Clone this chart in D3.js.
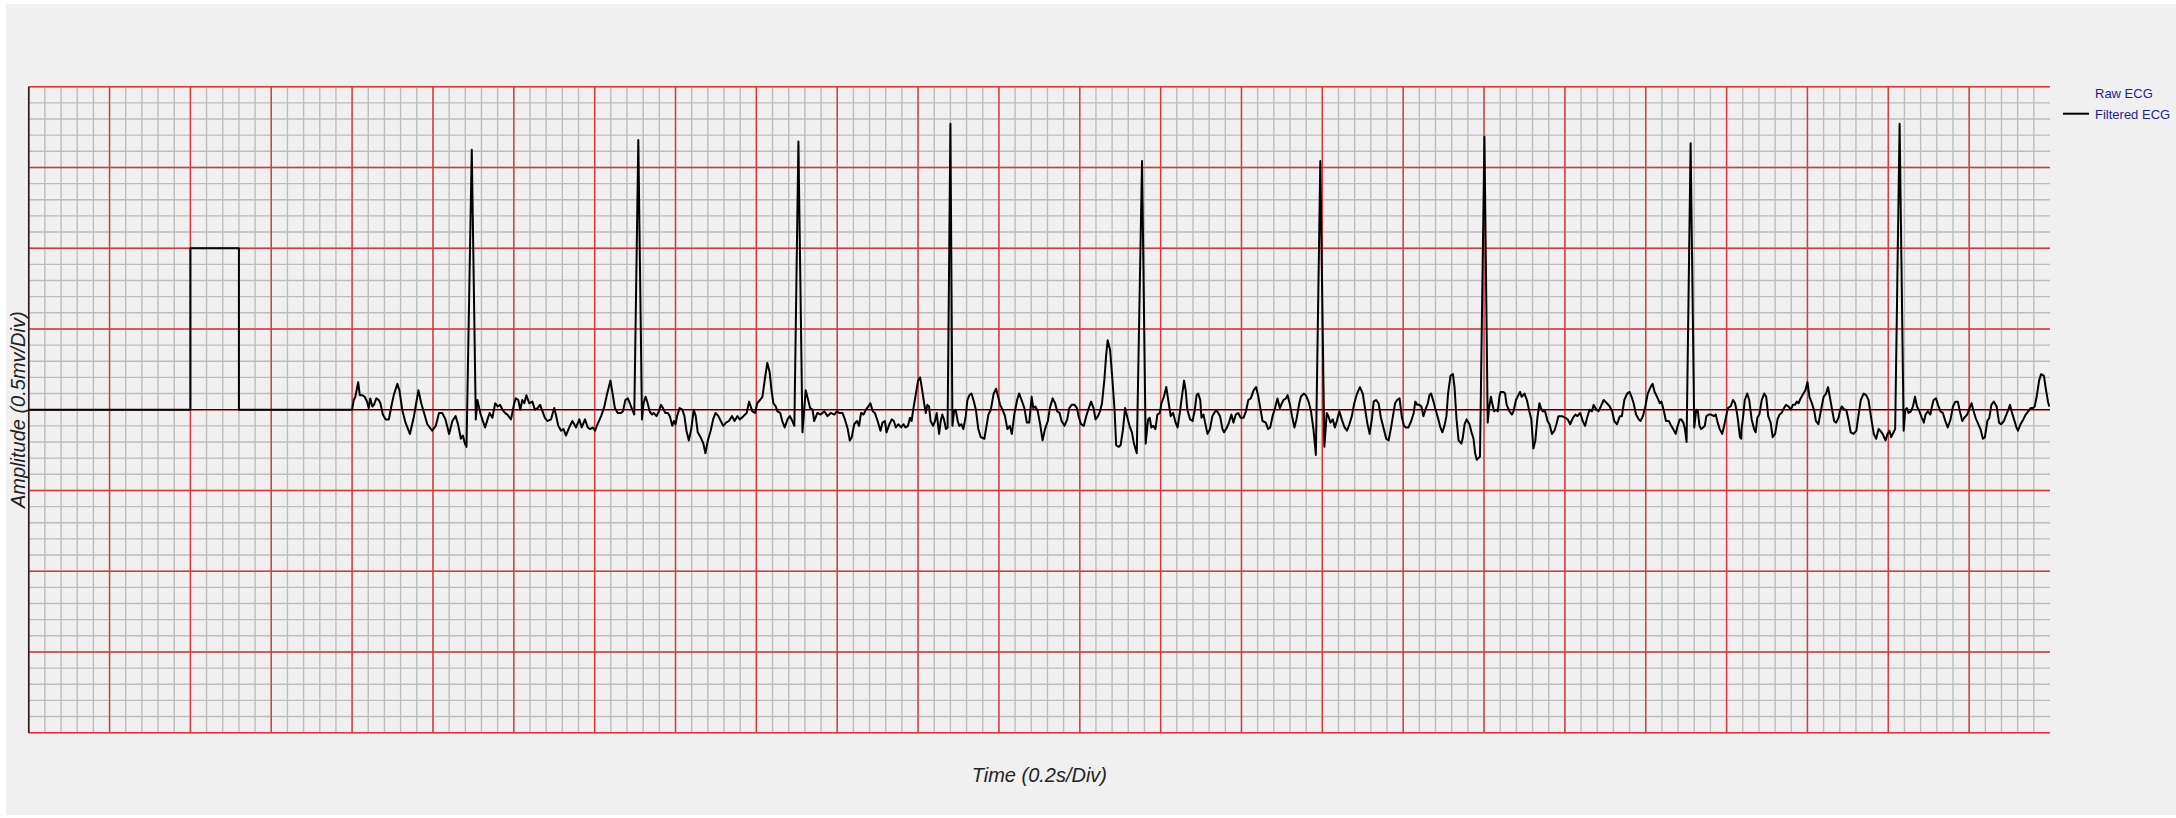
<!DOCTYPE html>
<html><head><meta charset="utf-8">
<script src="https://cdn.jsdelivr.net/npm/d3@7"></script>
<style>html,body{margin:0;padding:0;background:#fff;} svg{display:block}</style>
</head><body><svg id="c" width="2176" height="818"></svg>
<script>
// ---------- data ----------
const seriesNames = ["Raw ECG", "Filtered ECG"];
const xLabel = "Time (0.2s/Div)";
const yLabel = "Amplitude (0.5mv/Div)";
const timeDomainMs = [0, 5000];        // 25 divisions x 0.2 s
const ampDomainMv = [-2, 2];           // 8 divisions x 0.5 mV
const minorStepMs = 40, majorStepMs = 200;
const minorStepMv = 0.1, majorStepMv = 0.5;
const rawEcg = [];                     // listed in legend, not drawn
// calibration pulse [ms, mV]
const calibration = [[0,0],[400,0],[400,1],[520,1],[520,0],[800,0]];
// filtered ECG [ms, mV]
const ecg = [
[800,0],[804,0.06],[808,0.08],[815,0.17],[819,0.09],[825,0.09],[831,0.08],[837,0.05],[841,0.01],[845,0.07],[850,0.02],[854,0.03],[860,0.07],[866,0.06],[870,0.04],[876,-0.03],[883,-0.06],[891,-0.06],[897,0.02],[903,0.09],[912,0.16],[917,0.12],[924,0],[932,-0.08],[943,-0.15],[953,-0.04],[964,0.12],[971,0.04],[978,-0.02],[986,-0.09],[998,-0.13],[1007,-0.10],[1015,-0.02],[1023,-0.02],[1031,-0.06],[1040,-0.15],[1048,-0.07],[1056,-0.04],[1062,-0.09],[1069,-0.18],[1074,-0.16],[1079,-0.21],[1083,-0.23],[1096,1.61],[1106,-0.06],[1110,0.06],[1117,-0.02],[1122,-0.06],[1129,-0.11],[1135,-0.06],[1140,-0.02],[1147,-0.05],[1154,0.04],[1160,0.02],[1166,0.03],[1172,0],[1178,-0.02],[1184,-0.03],[1193,-0.06],[1201,0.04],[1205,0.07],[1211,0.06],[1216,0],[1221,0.06],[1226,0.04],[1231,0.09],[1238,0.04],[1246,0.05],[1252,0],[1259,0.01],[1265,0.03],[1271,-0.01],[1277,-0.05],[1283,-0.07],[1292,-0.06],[1300,0.01],[1304,-0.03],[1310,-0.10],[1317,-0.13],[1323,-0.12],[1329,-0.16],[1337,-0.11],[1345,-0.07],[1354,-0.11],[1362,-0.06],[1368,-0.11],[1376,-0.06],[1383,-0.11],[1389,-0.12],[1395,-0.11],[1401,-0.13],[1407,-0.09],[1416,-0.04],[1424,0.02],[1431,0.10],[1439,0.18],[1445,0.09],[1450,0.01],[1457,-0.02],[1465,-0.02],
[1470,-0.01],[1476,0.06],[1482,0.07],[1487,0.04],[1493,0],[1498,-0.03],[1508,1.67],[1517,-0.06],[1521,0.04],[1526,0.08],[1530,0.05],[1536,-0.01],[1542,-0.03],[1546,-0.02],[1553,-0.04],[1559,-0.01],[1564,0.03],[1569,0.01],[1575,-0.02],[1581,-0.02],[1586,-0.04],[1592,-0.10],[1596,-0.07],[1600,-0.09],[1604,-0.04],[1610,0.01],[1617,0],[1622,-0.04],[1627,-0.13],[1633,-0.19],[1639,-0.12],[1645,0],[1650,-0.04],[1655,-0.14],[1662,-0.17],[1669,-0.21],[1674,-0.27],[1680,-0.19],[1687,-0.13],[1693,-0.06],[1699,-0.02],[1706,-0.04],[1712,-0.07],[1718,-0.10],[1725,-0.08],[1732,-0.07],[1740,-0.04],[1746,-0.07],[1753,-0.04],[1759,-0.06],[1768,-0.04],[1776,-0.02],[1782,0.05],[1786,0.02],[1790,-0.01],[1797,-0.02],[1802,0.04],[1809,0.06],[1815,0.08],[1821,0.19],[1827,0.29],[1833,0.23],[1837,0.13],[1842,0.04],[1848,0.02],[1852,-0.01],[1859,-0.02],[1864,-0.07],[1870,-0.11],[1877,-0.06],[1883,-0.04],[1889,-0.07],[1894,-0.10],[1904,1.66],[1914,-0.14],[1922,0.12],[1928,0.06],[1933,0.01],[1939,0],[1943,-0.07],[1951,-0.02],[1959,-0.03],[1968,-0.01],[1976,-0.04],[1984,-0.02],[1993,-0.03],[1999,-0.01],[2005,-0.02],[2013,-0.02],[2019,-0.06],[2026,-0.12],[2031,-0.19],[2036,-0.17],[2042,-0.09],[2049,-0.07],[2054,-0.10],[2059,-0.02],[2065,-0.03],[2071,0],[2077,0.02],[2082,0.04],[2088,-0.01],[2093,-0.02],[2100,-0.07],[2107,-0.13],[2112,-0.08],[2118,-0.07],[2122,-0.14],[2129,-0.09],[2135,-0.06],[2140,-0.07],[2145,-0.11],[2151,-0.09],[2158,-0.11],
[2164,-0.09],[2169,-0.11],[2175,-0.10],[2180,-0.05],[2184,-0.07],[2188,0],[2194,0.09],[2200,0.18],[2205,0.20],[2209,0.14],[2215,0.04],[2219,-0.02],[2223,0.03],[2227,0.02],[2231,-0.07],[2237,-0.10],[2242,-0.07],[2246,-0.02],[2252,-0.15],[2256,-0.07],[2260,-0.03],[2264,-0.06],[2269,-0.12],[2273,-0.11],[2280,1.77],[2285,-0.10],[2289,-0.01],[2293,0],[2298,-0.07],[2302,-0.10],[2307,-0.09],[2312,-0.12],[2318,-0.04],[2322,0.06],[2327,0.09],[2332,0.10],[2337,0.06],[2343,0],[2349,-0.12],[2355,-0.17],[2364,-0.18],[2370,-0.09],[2374,-0.03],[2380,0],[2387,0.10],[2393,0.13],[2398,0.08],[2403,0.03],[2409,0],[2415,-0.04],[2421,-0.12],[2427,-0.10],[2432,-0.15],[2438,-0.03],[2445,0.06],[2450,0.10],[2456,0.06],[2463,0.01],[2469,-0.08],[2475,-0.08],[2481,0.08],[2485,0.01],[2490,0.02],[2496,-0.01],[2502,-0.09],[2508,-0.19],[2514,-0.12],[2521,-0.07],[2526,0.01],[2533,0.07],[2539,0.04],[2544,-0.01],[2550,-0.02],[2555,-0.07],[2562,-0.10],[2569,-0.06],[2574,0.01],[2580,0.03],[2587,0.03],[2593,0.01],[2597,-0.04],[2603,-0.09],[2610,-0.10],[2616,-0.04],[2621,0],[2628,0.05],[2634,0.01],[2639,-0.06],[2645,-0.04],[2650,-0.01],[2655,0.04],[2661,0.19],[2665,0.33],[2669,0.43],[2675,0.37],[2680,0.21],[2686,0],[2690,-0.22],[2696,-0.23],[2701,-0.22],[2707,-0.12],[2712,0.01],[2717,-0.04],[2723,-0.10],[2729,-0.14],[2734,-0.21],[2741,-0.27],[2754,1.54],[2763,-0.21],[2769,-0.06],[2773,-0.05],[2777,-0.11],[2782,-0.10],[2787,-0.12],[2792,-0.03],[2798,-0.02],[2802,0.04],[2808,0.08],[2814,0.14],[2820,0.04],[2825,-0.04],[2831,-0.02],[2837,-0.08],[2842,-0.11],[2848,-0.01],[2851,0.05],
[2858,0.18],[2862,0.12],[2866,0],[2873,-0.06],[2879,-0.07],[2884,-0.01],[2889,0.09],[2893,0.10],[2898,0.06],[2901,-0.05],[2906,-0.03],[2910,-0.08],[2916,-0.15],[2922,-0.12],[2928,-0.04],[2935,-0.01],[2940,-0.01],[2947,-0.04],[2953,-0.12],[2957,-0.14],[2964,-0.11],[2969,-0.08],[2975,-0.03],[2980,-0.08],[2986,-0.03],[2992,-0.02],[2998,-0.05],[3005,-0.05],[3011,-0.01],[3017,0.06],[3023,0.07],[3030,0.12],[3036,0.14],[3041,0.09],[3048,-0.01],[3052,-0.07],[3060,-0.08],[3066,-0.12],[3071,-0.11],[3077,-0.04],[3083,0.01],[3089,0.07],[3095,0.01],[3100,0.04],[3104,0.06],[3110,0.07],[3114,0.09],[3120,0.03],[3125,-0.04],[3131,-0.11],[3136,-0.06],[3143,0.04],[3147,0.08],[3154,0.10],[3159,0.09],[3166,0.05],[3172,-0.01],[3178,-0.12],[3184,-0.28],[3195,1.54],[3205,-0.23],[3211,-0.02],[3215,-0.04],[3220,-0.08],[3226,-0.06],[3231,-0.11],[3236,-0.07],[3242,-0.01],[3248,-0.06],[3255,-0.11],[3261,-0.13],[3267,-0.09],[3273,-0.04],[3279,0.04],[3286,0.10],[3293,0.14],[3300,0.10],[3306,0],[3311,-0.08],[3317,-0.15],[3323,-0.05],[3327,0.05],[3333,0.06],[3339,0.04],[3345,-0.05],[3352,-0.12],[3358,-0.18],[3364,-0.19],[3370,-0.11],[3376,-0.02],[3380,0.04],[3385,0.06],[3391,0.07],[3397,-0.05],[3402,-0.10],[3407,-0.11],[3413,-0.11],[3420,-0.07],[3426,-0.02],[3430,0.05],[3435,0.03],[3440,0.03],[3445,0.02],[3450,-0.04],[3455,0],[3461,0.04],[3465,0.09],[3469,0.10],[3475,0.05],[3479,0.01],[3486,-0.05],[3492,-0.11],[3497,-0.14],[3502,-0.10],[3507,-0.04],[3511,0.10],[3517,0.21],[3523,0.22],[3527,0.14],[3532,-0.06],[3537,-0.19],[3544,-0.21],
[3547,-0.18],[3552,-0.09],[3557,-0.06],[3564,-0.09],[3569,-0.14],[3574,-0.18],[3578,-0.27],[3582,-0.31],[3586,-0.30],[3590,-0.29],[3601,1.69],[3609,-0.08],[3613,0.02],[3617,0.08],[3621,0.03],[3625,-0.01],[3630,0],[3634,-0.01],[3638,0.08],[3641,0.11],[3648,0.11],[3652,0.10],[3656,0.03],[3663,-0.01],[3669,-0.03],[3673,-0.01],[3679,0.06],[3685,0.09],[3689,0.11],[3693,0.08],[3700,0.10],[3706,0.06],[3712,-0.01],[3717,-0.06],[3722,-0.24],[3727,-0.19],[3732,-0.05],[3737,0.04],[3741,0.01],[3745,-0.01],[3751,-0.01],[3757,-0.07],[3762,-0.09],[3768,-0.15],[3774,-0.13],[3779,-0.09],[3784,-0.04],[3793,-0.04],[3801,-0.05],[3807,-0.06],[3813,-0.09],[3820,-0.05],[3826,-0.03],[3831,-0.04],[3838,-0.02],[3844,-0.07],[3850,-0.10],[3855,-0.05],[3861,0],[3867,-0.01],[3871,0.03],[3878,0],[3883,-0.01],[3889,0.02],[3896,0.06],[3904,0.04],[3911,0.02],[3917,-0.01],[3922,-0.07],[3929,-0.09],[3936,-0.04],[3941,-0.04],[3947,0.06],[3954,0.10],[3960,0.11],[3965,0.08],[3970,0.04],[3976,-0.03],[3983,-0.06],[3987,-0.07],[3993,-0.04],[3999,0.02],[4005,0.10],[4012,0.14],[4017,0.16],[4022,0.11],[4028,0.08],[4035,0.04],[4039,0.05],[4045,-0.01],[4050,-0.07],[4057,-0.07],[4063,-0.10],[4068,-0.12],[4074,-0.15],[4078,-0.11],[4084,-0.06],[4088,-0.06],[4093,-0.08],[4097,-0.12],[4101,-0.20],[4111,1.65],[4120,-0.11],[4125,0],[4129,-0.01],[4133,-0.10],[4137,-0.12],[4142,-0.11],[4146,-0.10],[4150,-0.04],[4156,-0.03],[4162,-0.03],[4169,-0.04],[4173,-0.03],[4178,-0.08],[4183,-0.12],[4189,-0.15],[4193,-0.11],[4199,-0.04],[4203,0.01],[4210,0.02],[4216,0.06],[4221,0.04],[4225,-0.01],[4228,-0.06],[4233,-0.17],[4236,-0.18],
[4237,-0.12],[4241,-0.04],[4245,0.06],[4251,0.10],[4256,0.06],[4262,-0.06],[4268,-0.12],[4272,-0.14],[4276,-0.05],[4281,-0.03],[4287,0.06],[4293,0.10],[4298,0.08],[4303,-0.04],[4309,-0.08],[4314,-0.17],[4320,-0.15],[4326,-0.06],[4331,-0.03],[4336,-0.02],[4342,0.01],[4347,0.03],[4353,0.02],[4359,0],[4364,0.03],[4369,0.03],[4374,0.05],[4378,0.04],[4383,0.07],[4390,0.10],[4395,0.12],[4400,0.17],[4405,0.08],[4411,0.04],[4417,-0.01],[4421,-0.07],[4427,-0.09],[4433,-0.01],[4440,0.08],[4446,0.10],[4451,0.14],[4456,0.07],[4461,0],[4466,-0.07],[4471,-0.08],[4477,-0.05],[4481,0],[4485,0.02],[4491,0],[4496,0],[4502,-0.07],[4507,-0.14],[4514,-0.15],[4521,-0.13],[4526,-0.04],[4532,0.06],[4539,0.10],[4545,0.09],[4551,0.06],[4557,-0.04],[4564,-0.15],[4570,-0.18],[4576,-0.12],[4580,-0.13],[4586,-0.15],[4593,-0.19],[4598,-0.15],[4603,-0.13],[4607,-0.17],[4613,-0.14],[4617,-0.12],[4628,1.77],[4638,-0.13],[4642,0],[4646,0.01],[4650,-0.02],[4656,-0.01],[4661,0.02],[4666,0.08],[4671,0.02],[4677,-0.01],[4683,-0.05],[4688,-0.08],[4692,-0.03],[4698,-0.01],[4704,-0.03],[4708,0.02],[4712,0.06],[4718,0.07],[4723,0.03],[4729,-0.01],[4735,-0.02],[4741,-0.07],[4747,-0.11],[4754,-0.06],[4760,0.02],[4766,0.05],[4772,0.05],[4777,-0.01],[4783,-0.07],[4788,-0.05],[4795,-0.03],[4801,0.01],[4806,0.04],[4810,0],[4816,-0.05],[4821,-0.08],[4828,-0.12],[4834,-0.18],[4839,-0.17],[4845,-0.07],[4850,-0.05],[4855,0.03],[4861,0.05],[4868,0.02],[4874,-0.08],[4879,-0.09],[4886,-0.07],[4892,-0.03],[4897,0],[4901,0.03],[4905,-0.01],[4911,-0.06],[4917,-0.11],[4921,-0.13],[4927,-0.09],[4934,-0.06],[4940,-0.03],[4946,-0.01],[4952,0.01],[4958,0.01],[4962,0.02],[4967,0.08],[4973,0.18],[4978,0.22],[4985,0.21],[4989,0.14],[4995,0.05],[4998,0.02]
];

// ---------- layout ----------
const svg = d3.select("#c");
const plot = {left: 28.7, right: 2050, top: 86.7, bottom: 732.7};
const x = d3.scaleLinear().domain(timeDomainMs).range([plot.left, plot.right]);
const y = d3.scaleLinear().domain(ampDomainMv).range([plot.bottom, plot.top]);

svg.append("rect").attr("x", 6).attr("y", 4).attr("width", 2170).attr("height", 811).attr("fill", "#f0f0f0");

const nMinorX = Math.round((timeDomainMs[1] - timeDomainMs[0]) / minorStepMs);
const minorX = d3.range(0, nMinorX).map(i => timeDomainMs[0] + i * minorStepMs);
const majorX = minorX.filter(t => Math.round(t) % majorStepMs === 0);
const nMinorY = Math.round((ampDomainMv[1] - ampDomainMv[0]) / minorStepMv);
const minorY = d3.range(0, nMinorY + 1).map(i => +(ampDomainMv[0] + i * minorStepMv).toFixed(2));
const majorY = minorY.filter(v => Math.abs(v / majorStepMv - Math.round(v / majorStepMv)) < 1e-6);

const grid = svg.append("g");
grid.selectAll(".mx").data(minorX).join("line")
  .attr("x1", d => x(d)).attr("x2", d => x(d)).attr("y1", plot.top).attr("y2", plot.bottom)
  .attr("stroke", "#bcbcbc").attr("stroke-width", 1.4);
grid.selectAll(".my").data(minorY).join("line").attr("class","my")
  .attr("x1", plot.left).attr("x2", plot.right).attr("y1", d => y(d)).attr("y2", d => y(d))
  .attr("stroke", "#bcbcbc").attr("stroke-width", 1.4);
grid.selectAll(".Mx").data(majorX).join("line").attr("class","Mx")
  .attr("x1", d => x(d)).attr("x2", d => x(d)).attr("y1", plot.top).attr("y2", plot.bottom)
  .attr("stroke", "#e23434").attr("stroke-width", 1.4);
grid.selectAll(".My").data(majorY).join("line").attr("class","My")
  .attr("x1", plot.left).attr("x2", plot.right).attr("y1", d => y(d)).attr("y2", d => y(d))
  .attr("stroke", "#e23434").attr("stroke-width", 1.4);

// left axis line
svg.append("line").attr("x1", plot.left).attr("x2", plot.left).attr("y1", plot.top).attr("y2", plot.bottom)
  .attr("stroke", "#2a1a1a").attr("stroke-width", 1.5);
// zero baseline
svg.append("line").attr("x1", plot.left).attr("x2", plot.right).attr("y1", y(0)).attr("y2", y(0))
  .attr("stroke", "#000").attr("stroke-width", 1);

const line = d3.line().x(d => x(d[0])).y(d => y(d[1]));
svg.append("path").datum(calibration.concat(ecg)).attr("d", line)
  .attr("fill", "none").attr("stroke", "#000").attr("stroke-width", 2).attr("stroke-linejoin", "round");

// axis titles
svg.append("text").attr("x", (plot.left + plot.right) / 2).attr("y", 781.5)
  .attr("text-anchor", "middle").attr("font-family", "Liberation Sans, Arial, sans-serif")
  .attr("font-style", "italic").attr("font-size", 20).attr("fill", "#222").text(xLabel);
svg.append("text").attr("transform", `translate(25,${(plot.top + plot.bottom) / 2}) rotate(-90)`)
  .attr("text-anchor", "middle").attr("font-family", "Liberation Sans, Arial, sans-serif")
  .attr("font-style", "italic").attr("font-size", 20).attr("fill", "#222").text(yLabel);

// legend
const lg = svg.append("g").attr("font-family", "Liberation Sans, Arial, sans-serif").attr("font-size", 13);
lg.append("text").attr("x", 2095).attr("y", 98).attr("fill", "#1c1c9c").text(seriesNames[0]);
lg.append("line").attr("x1", 2063).attr("x2", 2089).attr("y1", 113.7).attr("y2", 113.7).attr("stroke", "#000").attr("stroke-width", 2);
lg.append("text").attr("x", 2095).attr("y", 118.5).attr("fill", "#1c1c9c").text(seriesNames[1]);
</script></body></html>
